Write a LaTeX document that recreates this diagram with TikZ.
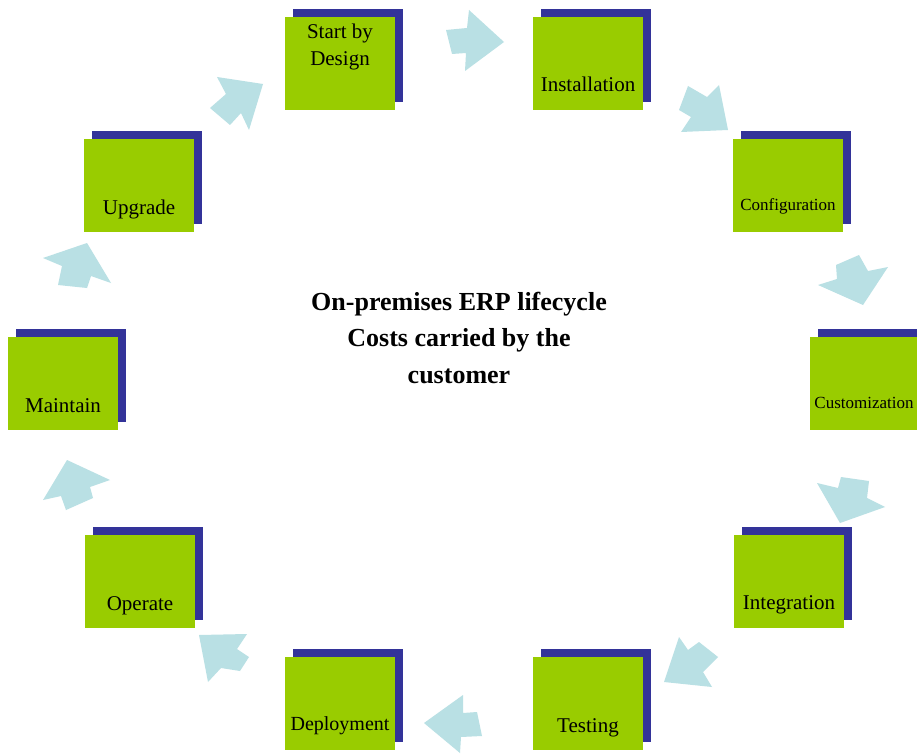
\documentclass[tikz,border=0pt]{standalone}
\usepackage{fontspec}
\setmainfont{Liberation Serif}
\definecolor{boxgreen}{RGB}{153,204,0}
\definecolor{shadowblue}{RGB}{51,51,153}
\definecolor{arrowblue}{RGB}{185,224,228}
\newcommand\erpbox[3]{%
  \node[shadowbox] (#1s) at (#2+8,#3-8) {};
  \node[greenbox] (#1) at (#2,#3) {};}
\begin{document}
\begin{tikzpicture}[x=1pt,y=-1pt,
  greenbox/.style={fill=boxgreen, minimum width=110pt, minimum height=93pt, inner sep=0pt, outer sep=0pt},
  shadowbox/.style={fill=shadowblue, minimum width=110pt, minimum height=93pt, inner sep=0pt, outer sep=0pt},
  blockarrow/.style={fill=arrowblue},
  lbl/.style={font=\fontsize{21}{24}\selectfont, anchor=base, inner sep=0pt},
  lblsmall/.style={font=\fontsize{17}{20}\selectfont, anchor=base, inner sep=0pt}]
\clip (0,0) rectangle (917,754);
\fill[white] (0,0) rectangle (917,754);
% boxes
\erpbox{design}{340}{63.5}
\erpbox{install}{588}{63.5}
\erpbox{config}{788}{185.5}
\erpbox{custom}{865}{383.5}
\erpbox{integ}{789}{581.5}
\erpbox{test}{588}{703.5}
\erpbox{deploy}{340}{703.5}
\erpbox{operate}{140}{581.5}
\erpbox{maintain}{63}{383.5}
\erpbox{upgrade}{139}{185.5}
% labels
\node[lbl] (ldesign1) at (340,39) {Start by};
\node[lbl] (ldesign2) at (340,66) {Design};
\node[lbl] (linstall) at (588,92) {Installation};
\node[lblsmall] (lconfig) at (788,210) {Configuration};
\node[lblsmall] (lcustom) at (864,408) {Customization};
\node[lbl] (linteg) at (789,609) {Integration};
\node[lbl] (ltest) at (588,732) {Testing};
\node[lbl, font=\fontsize{20}{24}\selectfont] (ldeploy) at (340,730) {Deployment};
\node[lbl] (loperate) at (140,610) {Operate};
\node[lbl] (lmaintain) at (63,412) {Maintain};
\node[lbl] (lupgrade) at (139,214) {Upgrade};
% title
\node[align=center, font=\fontsize{26}{36.5}\selectfont\bfseries, inner sep=0pt] (title) at (459,338)
  {On-premises ERP lifecycle\\Costs carried by the\\customer};
% arrows
\fill[blockarrow] (446,30) -- (467,28) -- (469,10) -- (504,42) -- (465,71) -- (466,53) -- (452,54) -- cycle;
\fill[blockarrow] (688,86) -- (707,97) -- (719,85) -- (728,130) -- (681,132) -- (691,117) -- (679,110) -- cycle;
\fill[blockarrow] (836,265) -- (859,255) -- (868,271) -- (888,267) -- (863,305) -- (818,285) -- (837,279) -- cycle;
\fill[blockarrow] (817,483) -- (838,488) -- (841,477) -- (869,481) -- (867,498) -- (885,507) -- (840,523) -- cycle;
\fill[blockarrow] (679,637) -- (688,650) -- (699,642) -- (718,657) -- (703,672) -- (712,687) -- (664,682) -- cycle;
\fill[blockarrow] (424,723) -- (463,695) -- (463,713) -- (477,712) -- (482,736) -- (461,737) -- (460,753) -- cycle;
\fill[blockarrow] (199,635) -- (247,634) -- (237,649) -- (249,657) -- (240,671) -- (221,668) -- (208,682) -- cycle;
\fill[blockarrow] (67,460) -- (110,480) -- (90,487) -- (93,498) -- (66,510) -- (61,496) -- (43,500) -- cycle;
\fill[blockarrow] (43,258) -- (87,243) -- (111,283) -- (91,276) -- (87,288) -- (58,285) -- (62,266) -- cycle;
\fill[blockarrow] (217,77) -- (263,84) -- (249,130) -- (241,113) -- (230,125) -- (210,108) -- (226,94) -- cycle;
\end{tikzpicture}
\end{document}
